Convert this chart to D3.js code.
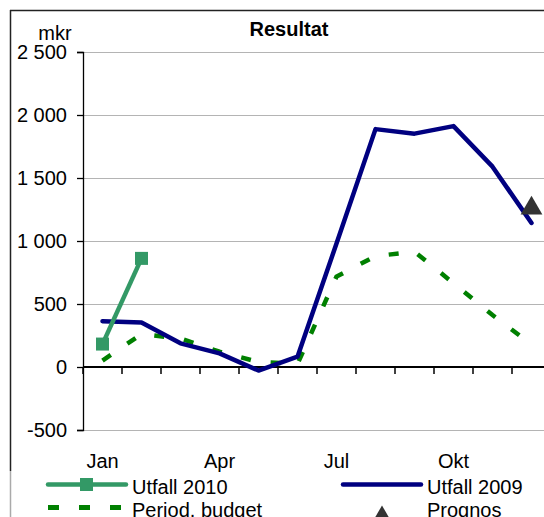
<!DOCTYPE html>
<html>
<head>
<meta charset="utf-8">
<script src="https://cdn.jsdelivr.net/npm/d3@7"></script>
<style>
  body { margin: 0; background: #fff; }
  text { font-family: "Liberation Sans", Arial, sans-serif; }
</style>
</head>
<body>
<svg id="chart" width="544" height="517"></svg>
<script>
const months = ["Jan", "Feb", "Mar", "Apr", "Maj", "Jun", "Jul", "Aug", "Sep", "Okt", "Nov", "Dec"]
const monthLabels = ["Jan", "Apr", "Jul", "Okt"]
const yTicks = [-500, 0, 500, 1000, 1500, 2000, 2500]

const utfall2010 = [182, 862]
const utfall2009 = [364, 354, 188, 108, -28, 82, 980, 1888, 1852, 1912, 1590, 1143]
const budget = [51, 261, 226, 121, 40, 24, 718, 880, 915, 665, 412, 178]
const prognos = [null, null, null, null, null, null, null, null, null, null, null, 1260]

const svg = d3.select("#chart")
const W = 544, H = 517

const x = d3.scaleBand().domain(months).range([83, 83 + 39 * 12]).paddingInner(0).paddingOuter(0)
const cx = d => x(d) + x.bandwidth() / 2
const y = d3.scaleLinear().domain([-500, 2500]).range([430, 52])

const fmt = d3.formatLocale({ decimal: ",", thousands: " ", grouping: [3], currency: ["", " kr"], minus: "-" }).format(",d")

// outer frame
svg.append("line").attr("x1", 10.5).attr("x2", 10.5).attr("y1", 10).attr("y2", 471)
    .attr("stroke", "#222").attr("stroke-width", 1.5)
svg.append("line").attr("x1", 10.5).attr("x2", 10.5).attr("y1", 471).attr("y2", H)
    .attr("stroke", "#aaa").attr("stroke-width", 1.5)
svg.append("line").attr("x1", 10).attr("x2", W).attr("y1", 10.5).attr("y2", 10.5)
    .attr("stroke", "#222").attr("stroke-width", 1.5)

// gridlines
svg.append("g").selectAll("line").data(yTicks.filter(d => d !== 0)).join("line")
    .attr("x1", 83).attr("x2", W)
    .attr("y1", d => Math.round(y(d)) + 0.5).attr("y2", d => Math.round(y(d)) + 0.5)
    .attr("stroke", "#b4b4b4").attr("stroke-width", 1)

// y axis
const yAxis = svg.append("g").attr("transform", "translate(83,0)")
    .call(d3.axisLeft(y).tickValues(yTicks).tickFormat(fmt).tickSize(6).tickPadding(10))
yAxis.select(".domain").attr("stroke", "#000").attr("stroke-width", 1.3)
yAxis.selectAll(".tick line").attr("stroke", "#000").attr("stroke-width", 1.3)
yAxis.selectAll(".tick text").attr("font-size", 20).attr("fill", "#000")
    .attr("font-family", "Liberation Sans, Arial, sans-serif")

// zero line with month ticks
svg.append("line").attr("x1", 83).attr("x2", W).attr("y1", y(0)).attr("y2", y(0))
    .attr("stroke", "#000").attr("stroke-width", 2.2)
svg.append("g").selectAll("line").data(months).join("line")
    .attr("x1", d => x(d)).attr("x2", d => x(d))
    .attr("y1", y(0)).attr("y2", y(0) + 7)
    .attr("stroke", "#000").attr("stroke-width", 1.5)

// month labels
svg.append("g").selectAll("text").data(monthLabels).join("text")
    .attr("x", d => cx(d)).attr("y", 468)
    .attr("text-anchor", "middle").attr("font-size", 20).text(d => d)

// title and unit
svg.append("text").attr("x", 289).attr("y", 36).attr("text-anchor", "middle")
    .attr("font-size", 20).attr("font-weight", "bold").text("Resultat")
svg.append("text").attr("x", 55).attr("y", 40).attr("text-anchor", "middle")
    .attr("font-size", 20).text("mkr")

// series
const line = d3.line().defined(d => d.v != null).x(d => cx(d.m)).y(d => y(d.v))
const pts = arr => arr.map((v, i) => ({ m: months[i], v: v }))

svg.append("path").datum(pts(budget)).attr("d", line)
    .attr("fill", "none").attr("stroke", "#008000").attr("stroke-width", 4.5)
    .attr("stroke-dasharray", "10,20")

svg.append("path").datum(pts(utfall2009)).attr("d", line)
    .attr("fill", "none").attr("stroke", "#000080").attr("stroke-width", 4.5)
    .attr("stroke-linejoin", "round").attr("stroke-linecap", "round")

svg.append("path").datum(pts(utfall2010)).attr("d", line)
    .attr("fill", "none").attr("stroke", "#339966").attr("stroke-width", 4.5)
svg.append("g").selectAll("rect").data(pts(utfall2010)).join("rect")
    .attr("x", d => cx(d.m) - 6.5).attr("y", d => y(d.v) - 6.5)
    .attr("width", 13).attr("height", 13).attr("fill", "#339966")

const tri = d3.symbol().type(d3.symbolTriangle).size(205)
svg.append("g").selectAll("path").data(pts(prognos).filter(d => d.v != null)).join("path")
    .attr("transform", d => `translate(${cx(d.m)},${y(d.v)})`)
    .attr("d", tri).attr("fill", "#333")

// legend
const lg = svg.append("g")
lg.append("line").attr("x1", 48).attr("x2", 126).attr("y1", 484.5).attr("y2", 484.5)
    .attr("stroke", "#339966").attr("stroke-width", 4.5).attr("stroke-linecap", "round")
lg.append("rect").attr("x", 80).attr("y", 478).attr("width", 13).attr("height", 13).attr("fill", "#339966")
lg.append("text").attr("x", 132).attr("y", 494).attr("font-size", 20).text("Utfall 2010")

lg.append("line").attr("x1", 343).attr("x2", 421).attr("y1", 484.5).attr("y2", 484.5)
    .attr("stroke", "#000080").attr("stroke-width", 4.5).attr("stroke-linecap", "round")
lg.append("text").attr("x", 427).attr("y", 494).attr("font-size", 20).text("Utfall 2009")

lg.append("line").attr("x1", 48).attr("x2", 126).attr("y1", 507.5).attr("y2", 507.5)
    .attr("stroke", "#008000").attr("stroke-width", 5).attr("stroke-dasharray", "11,20")
lg.append("text").attr("x", 132).attr("y", 517).attr("font-size", 20).text("Period. budget")

lg.append("path").attr("transform", "translate(382,518)").attr("d", tri).attr("fill", "#333")
lg.append("text").attr("x", 427).attr("y", 517).attr("font-size", 20).text("Prognos")
</script>
</body>
</html>
